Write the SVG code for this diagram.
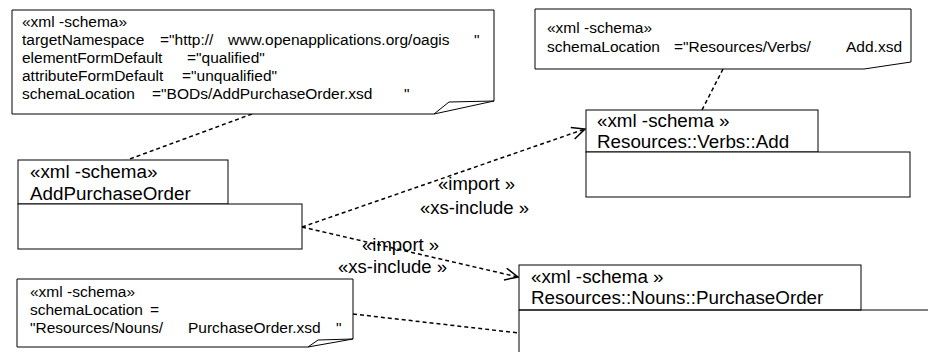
<svg xmlns="http://www.w3.org/2000/svg" width="928" height="352" viewBox="0 0 928 352">
<style>
text{font-family:"Liberation Sans",Arial,sans-serif;fill:#000;white-space:pre}
.n{font-size:15.5px}
.c{font-size:18.8px}
.l{font-size:18.5px}
.box{fill:#fff;stroke:#000;stroke-width:1}
.dash{fill:none;stroke:#000;stroke-width:1.5;stroke-dasharray:4 3}
</style>
<defs>
<marker id="arr" markerUnits="userSpaceOnUse" markerWidth="16" markerHeight="14" refX="14" refY="7" orient="auto">
<path d="M1,1 L14,7 L1,13" fill="none" stroke="#000" stroke-width="1.5"/>
</marker>
</defs>
<rect width="928" height="352" fill="#fff"/>

<g id="connectors">
<line class="dash" x1="252" y1="114" x2="127" y2="160"/>
<line class="dash" x1="723" y1="69" x2="702" y2="110"/>
<line class="dash" x1="353" y1="314" x2="519" y2="333"/>
<line class="dash" x1="302" y1="227" x2="585" y2="129" marker-end="url(#arr)"/>
<line class="dash" x1="302" y1="227" x2="518" y2="277" marker-end="url(#arr)"/>
<text class="l" x="438" y="190">«import »</text>
<text class="l" x="420" y="214">«xs-include »</text>
<text class="l" x="362" y="251">«import »</text>
<text class="l" x="338" y="273">«xs-include »</text>
</g>

<g id="note1">
<path class="box" d="M12,10 H494 V101 L434,114 H12 Z"/>
<path d="M434,114 L449,102 L494,101" fill="none" stroke="#000" stroke-width="1"/>
<text class="n" x="22" y="27">«xml -schema»</text>
<text class="n" y="45"><tspan x="22">targetNamespace</tspan><tspan x="160">="http://</tspan><tspan x="228">www.openapplications.org/oagis</tspan><tspan x="474">"</tspan></text>
<text class="n" y="63"><tspan x="22">elementFormDefault</tspan><tspan x="187">="qualified"</tspan></text>
<text class="n" y="81"><tspan x="22">attributeFormDefault</tspan><tspan x="182">="unqualified"</tspan></text>
<text class="n" y="99"><tspan x="22">schemaLocation</tspan><tspan x="152">="BODs/AddPurchaseOrder.xsd</tspan><tspan x="404">"</tspan></text>
</g>

<g id="note2">
<path class="box" d="M535,9 H911 V62 L864,69 H535 Z"/>
<text class="n" x="547" y="33">«xml -schema»</text>
<text class="n" y="52"><tspan x="547">schemaLocation</tspan><tspan x="674">="Resources/Verbs/</tspan><tspan x="846">Add.xsd</tspan></text>
</g>

<g id="note3">
<path class="box" d="M17,279 H353 V339 L308,347 H17 Z"/>
<path d="M308,347 L318,340 L353,339" fill="none" stroke="#000" stroke-width="1"/>
<text class="n" x="30" y="297">«xml -schema»</text>
<text class="n" y="315"><tspan x="30">schemaLocation</tspan><tspan x="150">=</tspan></text>
<text class="n" y="333"><tspan x="30">"Resources/Nouns/</tspan><tspan x="188">PurchaseOrder.xsd</tspan><tspan x="336">"</tspan></text>
</g>

<g id="AddPurchaseOrder">
<rect class="box" x="18" y="160" width="210" height="44"/>
<rect class="box" x="18" y="204" width="284" height="45"/>
<text class="c" x="30" y="178">«xml -schema»</text>
<text class="c" x="30" y="200">AddPurchaseOrder</text>
</g>

<g id="VerbsAdd">
<rect class="box" x="586" y="110" width="232" height="42"/>
<rect class="box" x="586" y="152" width="324" height="45"/>
<text class="c" x="597" y="127">«xml -schema »</text>
<text class="c" x="597" y="148">Resources::Verbs::Add</text>
</g>

<g id="NounsPurchaseOrder">
<rect class="box" x="519" y="265" width="342" height="45"/>
<path d="M519,310 H928 M519,310 V352" fill="none" stroke="#000" stroke-width="1"/>
<text class="c" x="531" y="283">«xml -schema »</text>
<text class="c" x="531" y="304">Resources::Nouns::PurchaseOrder</text>
</g>
</svg>
